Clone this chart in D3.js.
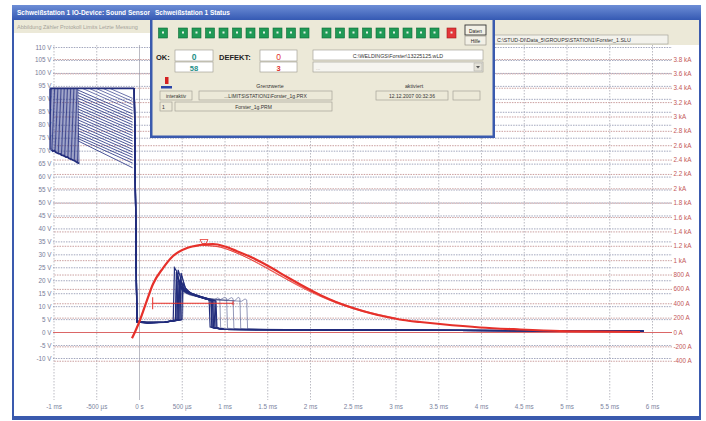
<!DOCTYPE html>
<html>
<head>
<meta charset="utf-8">
<script src="https://cdn.jsdelivr.net/npm/d3@7"></script>
<style>
  body { margin: 0; background: #fff; }
  svg { display: block; font-family: "Liberation Sans", Arial, sans-serif; }
</style>
</head>
<body>
<div id="chart"></div>
<script>
// time axis (ms)
const timeTicks = [-1, -0.5, 0, 0.5, 1, 1.5, 2, 2.5, 3, 3.5, 4, 4.5, 5, 5.5, 6];
const timeLabels = ["-1 ms", "-500 µs", "0 s", "500 µs", "1 ms", "1.5 ms", "2 ms", "2.5 ms",
                    "3 ms", "3.5 ms", "4 ms", "4.5 ms", "5 ms", "5.5 ms", "6 ms"];

// voltage axis (left)
const voltTicks = [-10, -5, 0, 5, 10, 15, 20, 25, 30, 35, 40, 45, 50, 55, 60, 65, 70, 75, 80, 85, 90, 95, 100, 105, 110];
const voltLabels = ["-10 V", "-5 V", "0 V", "5 V", "10 V", "15 V", "20 V", "25 V", "30 V", "35 V", "40 V", "45 V",
                    "50 V", "55 V", "60 V", "65 V", "70 V", "75 V", "80 V", "85 V", "90 V", "95 V", "100 V", "105 V", "110 V"];

// current axis (right)
const ampTicks = [-400, -200, 0, 200, 400, 600, 800, 1000, 1200, 1400, 1600, 1800, 2000, 2200, 2400, 2600,
                  2800, 3000, 3200, 3400, 3600, 3800];
const ampLabels = ["-400 A", "-200 A", "0 A", "200 A", "400 A", "600 A", "800 A", "1 kA", "1.2 kA", "1.4 kA",
                   "1.6 kA", "1.8 kA", "2 kA", "2.2 kA", "2.4 kA", "2.6 kA", "2.8 kA", "3 kA", "3.2 kA",
                   "3.4 kA", "3.6 kA", "3.8 kA"];

// charging voltage before trigger: steep rises (left block)
const preRiseT    = [-1.04, -1.023, -1.006, -0.989, -0.972, -0.955, -0.938, -0.921, -0.904, -0.887,
                     -0.87, -0.853, -0.836, -0.819, -0.802, -0.785, -0.768, -0.751, -0.734, -0.717];
const preRiseLowV = [70.4, 69.8, 70.0, 69.4, 69.1, 68.9, 68.8, 68.3, 68.2, 67.9,
                     67.5, 67.6, 67.1, 66.8, 66.6, 66.3, 66.1, 65.7, 65.4, 65.0];
// charging voltage before trigger: slopes (middle block), value at -0.715 ms and at -0.075 ms
const preSlopeStartV = [93.4, 92.4, 91.3, 90.3, 89.2, 88.2, 87.1, 86.1, 85.0, 84.0,
                        82.9, 81.9, 80.8, 79.8, 78.7, 77.7, 76.6, 75.6, 74.7, 73.8];
const preSlopeEndV   = [84.2, 83.1, 82.1, 81.0, 80.0, 78.9, 77.9, 76.8, 75.8, 74.7,
                        73.7, 72.6, 71.6, 70.5, 69.5, 68.4, 67.4, 66.3, 65.2, 63.4];
// slopes leaving the top edge, start time and value at -0.075 ms
const preTopSlopeT = [-0.66, -0.58, -0.50, -0.42, -0.34];
const preTopSlopeEndV = [85.5, 86.5, 87.8, 89.0, 90.2];
const preTopV = 94;

// weld voltage traces [ms, V]
const weldVoltMain = [
  [[-0.055,94],[-0.025,4.3],[0.1,3.6],[0.3,3.9],[0.40,4.5],[0.415,24.8],[0.44,23.5],[0.47,18.6],[0.53,16.0],[0.64,14.4],[0.76,13.1],[0.82,12.5],[0.832,2.0],[0.95,1.1],[2.5,0.8],[5.9,0.4]],
  [[-0.055,94],[-0.025,3.9],[0.1,3.4],[0.3,3.8],[0.445,4.7],[0.458,24.0],[0.48,21.6],[0.51,17.4],[0.57,15.4],[0.67,14.1],[0.78,12.9],[0.84,12.2],[0.852,1.8],[1.0,1.0],[2.5,0.8],[5.9,0.4]],
  [[-0.055,94],[-0.025,4.0],[0.1,3.5],[0.3,3.7],[0.43,4.6],[0.442,21.8],[0.47,19.5],[0.50,16.8],[0.56,15.1],[0.68,13.8],[0.80,12.6],[0.86,12.0],[0.872,1.7],[1.0,1.0],[2.5,0.8],[5.9,0.4]],
  [[-0.055,94],[-0.025,4.1],[0.1,3.7],[0.3,3.9],[0.465,4.8],[0.478,20.2],[0.50,18.4],[0.53,16.3],[0.59,15.0],[0.70,13.7],[0.81,12.6],[0.875,12.1],[0.887,1.6],[1.0,1.0],[2.5,0.8],[5.9,0.4]],
  [[-0.055,94],[-0.025,3.8],[0.1,3.5],[0.3,3.8],[0.48,4.7],[0.492,22.8],[0.51,20.6],[0.54,17.0],[0.60,15.2],[0.71,13.9],[0.82,12.7],[0.89,12.1],[0.902,1.7],[1.0,1.0],[2.5,0.8],[5.9,0.4]],
  [[-0.055,94],[-0.025,4.2],[0.1,3.6],[0.3,3.8],[0.50,4.8],[0.512,19.0],[0.53,17.6],[0.56,16.0],[0.62,14.9],[0.73,13.6],[0.84,12.5],[0.90,12.0],[0.912,1.6],[1.0,1.0],[2.5,0.8],[5.9,0.4]],
  [[-0.055,94],[-0.025,4.0],[0.1,3.6],[0.3,3.9],[0.425,4.5],[0.437,23.2],[0.46,21.0],[0.49,17.2],[0.55,15.5],[0.66,14.2],[0.77,12.9],[0.845,12.3],[0.857,1.8],[1.0,1.0],[2.5,0.8],[5.9,0.4]],
  [[-0.055,94],[-0.025,3.9],[0.1,3.5],[0.3,3.8],[0.455,4.6],[0.467,18.2],[0.49,17.0],[0.52,15.8],[0.58,14.9],[0.69,13.7],[0.79,12.7],[0.86,12.2],[0.872,1.7],[1.0,1.0],[2.5,0.8],[5.9,0.4]]
];
const weldVoltLong = [
  [[-0.055,94],[-0.025,4.0],[0.3,3.8],[0.47,4.7],[0.482,20.8],[0.50,19.0],[0.53,16.4],[0.60,14.8],[0.75,13.2],[0.88,12.6],[0.92,13.2],[0.945,12.8],[0.955,1.6],[1.1,1.0],[5.9,0.4]],
  [[-0.055,94],[-0.025,4.0],[0.3,3.8],[0.49,4.7],[0.502,21.5],[0.52,19.6],[0.55,16.6],[0.62,14.6],[0.80,13.0],[0.95,12.5],[1.0,13.4],[1.025,13.0],[1.035,1.5],[1.2,1.0],[5.9,0.4]],
  [[-0.055,94],[-0.025,4.0],[0.3,3.8],[0.44,4.6],[0.452,19.6],[0.47,18.0],[0.50,16.0],[0.58,14.6],[0.80,12.8],[1.03,12.3],[1.08,13.3],[1.10,12.9],[1.11,1.4],[1.3,1.0],[5.9,0.4]],
  [[-0.055,94],[-0.025,4.0],[0.3,3.8],[0.51,4.8],[0.522,18.8],[0.54,17.4],[0.57,15.8],[0.64,14.4],[0.85,12.6],[1.12,12.1],[1.16,13.4],[1.18,13.0],[1.19,1.3],[1.4,1.0],[5.9,0.4]],
  [[-0.055,94],[-0.025,4.0],[0.3,3.8],[0.46,4.6],[0.472,17.6],[0.49,16.6],[0.52,15.4],[0.60,14.2],[0.90,12.4],[1.20,11.9],[1.24,12.8],[1.26,12.4],[1.27,1.3],[1.5,1.0],[5.9,0.4]]
];

// weld current [ms, A]
const currentMain = [
  [-0.082,-88],[-0.047,0],[0.012,167],[0.094,445],[0.164,668],[0.281,890],[0.398,1058],[0.561,1169],
  [0.713,1211],[0.866,1225],[1.006,1190],[1.146,1125],[1.333,1030],[1.532,905],[1.731,765],[1.918,640],
  [2.117,515],[2.304,418],[2.503,334],[2.702,264],[2.901,209],[3.088,167],[3.287,139],[3.52,111],
  [3.988,63],[4.456,35],[4.924,14],[5.392,7],[5.86,0]
];
const currentVar1 = [[0.72,1208],[0.9,1195],[1.1,1120],[1.4,955],[1.8,690],[2.2,470],[2.6,305],[3.0,195]];
const currentVar2 = [[0.75,1205],[0.95,1180],[1.2,1070],[1.6,815],[2.0,560],[2.4,365],[2.8,230]];
const limitBar = {t0: 0.16, t1: 1.1, a: 400};
const peakMarker = {t: 0.76, a: 1245};

// status dialog
const ledStates = [1,1,1,1,1,1,1,1,1,1,1,1,1,1,1,1,1,1,1,1,0];

const W = 706, H = 421;
const svg = d3.select('#chart').append('svg').attr('width', W).attr('height', H);

const x = d3.scaleLinear().domain([-1, 6]).range([53.5, 652]);
const yV = d3.scaleLinear().domain([-10, 110]).range([358, 47]);
const yA = d3.scaleLinear().domain([0, 3800]).range([332, 59]);

const defs = svg.append('defs');
const tg = defs.append('linearGradient').attr('id', 'title').attr('x1', 0).attr('x2', 0).attr('y1', 0).attr('y2', 1);
tg.append('stop').attr('offset', 0).attr('stop-color', '#6d8ed6');
tg.append('stop').attr('offset', 1).attr('stop-color', '#3559b3');

// main window
svg.append('rect').attr('x', 12).attr('y', 5).attr('width', 689).attr('height', 415).attr('fill', '#3a5aae');
svg.append('rect').attr('x', 14).attr('y', 20).attr('width', 685).attr('height', 396).attr('fill', '#fff');
svg.append('rect').attr('x', 12).attr('y', 5).attr('width', 689).attr('height', 15).attr('fill', 'url(#title)');
svg.append('text').attr('x', 17).attr('y', 15).attr('fill', '#fff').attr('font-size', 6.5).attr('font-weight', 'bold')
  .text('Schweißstation 1  IO-Device: Sound Sensor');
svg.append('rect').attr('x', 14).attr('y', 20).attr('width', 685).attr('height', 13).attr('fill', '#ece9d8');
svg.append('text').attr('x', 17).attr('y', 29).attr('fill', '#a5a39a').attr('font-size', 5.5)
  .text('Abbildung   Zähler   Protokoll   Limits   Letzte Messung');

// grid + axes
svg.append('g').attr('transform', 'translate(0,45)')
  .call(d3.axisBottom(x).tickValues(timeTicks).tickFormat((d, i) => timeLabels[i]).tickSize(355).tickPadding(5))
  .call(g => g.select('.domain').remove())
  .call(g => g.selectAll('line').attr('stroke', '#aaaab4').attr('stroke-width', 0.8)
    .attr('stroke-dasharray', d => d === 0 ? null : '1.5,1.5'))
  .call(g => g.selectAll('text').attr('fill', '#7d84a0').attr('font-size', 6.3).attr('font-family', null));

svg.append('g').attr('transform', 'translate(53,0)')
  .call(d3.axisLeft(yV).tickValues(voltTicks).tickFormat((d, i) => voltLabels[i]).tickSize(-619).tickPadding(1.5))
  .call(g => g.select('.domain').remove())
  .call(g => g.selectAll('line').attr('stroke', d => d === 0 ? 'none' : '#9297b2').attr('stroke-width', 0.85)
    .attr('stroke-dasharray', '1.5,1.1'))
  .call(g => g.selectAll('text').attr('fill', '#767c98').attr('font-size', 6.3).attr('font-family', null));

svg.append('g').attr('transform', 'translate(672,0)')
  .call(d3.axisRight(yA).tickValues(ampTicks).tickFormat((d, i) => ampLabels[i]).tickSize(-619).tickPadding(1.5))
  .call(g => g.select('.domain').remove())
  .call(g => g.selectAll('line').attr('stroke', d => d === 0 ? '#d44a4a' : '#c28e8e').attr('stroke-width', 0.85)
    .attr('stroke-dasharray', d => d === 0 ? null : '1.5,1.1'))
  .call(g => g.selectAll('text').attr('fill', '#c45858').attr('font-size', 6.3).attr('font-family', null));

// voltage traces
const lineV = d3.line().x(d => x(d[0])).y(d => yV(d[1]));
const navy = '#222d7c';
const pre = svg.append('g').attr('fill', 'none').attr('stroke', '#2c3786');
pre.selectAll('.rise').data(preRiseT).join('path').attr('class', 'rise')
  .attr('stroke-width', 0.9)
  .attr('d', (t, i) => lineV([[t, preTopV], [t + 0.015, preRiseLowV[i]]]));
pre.append('path').attr('stroke', navy).attr('stroke-width', 1.8)
  .attr('d', lineV(preRiseT.map((t, i) => [t + 0.015, preRiseLowV[i]])));
pre.selectAll('.slope').data(preSlopeStartV).join('path').attr('class', 'slope')
  .attr('stroke-width', 0.85)
  .attr('d', (v, i) => lineV([[-0.715, v], [-0.075, preSlopeEndV[i]]]));
pre.selectAll('.topslope').data(preTopSlopeT).join('path').attr('class', 'topslope')
  .attr('stroke-width', 0.7)
  .attr('d', (t, i) => lineV([[t, preTopV], [-0.075, preTopSlopeEndV[i]]]));
pre.append('path').attr('stroke', navy).attr('stroke-width', 1.4)
  .attr('d', lineV([[-1.04, 70.4], [-1.04, preTopV]]));
pre.append('path').attr('stroke', navy).attr('stroke-width', 1.8)
  .attr('d', lineV([[-1.04, preTopV], [-0.055, preTopV]]));

svg.append('g').attr('fill', 'none').attr('stroke', '#4a5289').attr('stroke-width', 0.6)
  .selectAll('path').data(weldVoltLong).join('path').attr('d', lineV);
svg.append('g').attr('fill', 'none').attr('stroke', navy).attr('stroke-width', 1.2)
  .selectAll('path').data(weldVoltMain).join('path').attr('d', lineV);

// current
const lineA = d3.line().x(d => x(d[0])).y(d => yA(d[1])).curve(d3.curveMonotoneX);
const red = '#e6302a';
svg.append('g').attr('fill', 'none').attr('stroke', red).attr('stroke-width', 0.7)
  .selectAll('path').data([currentVar1, currentVar2]).join('path').attr('d', lineA);
svg.append('path').attr('fill', 'none').attr('stroke', red).attr('stroke-width', 2.2).attr('d', lineA(currentMain));

const lim = svg.append('g').attr('stroke', red).attr('stroke-width', 1);
lim.append('line').attr('x1', x(limitBar.t0)).attr('x2', x(limitBar.t1)).attr('y1', yA(limitBar.a)).attr('y2', yA(limitBar.a));
lim.append('line').attr('x1', x(limitBar.t0)).attr('x2', x(limitBar.t0)).attr('y1', yA(limitBar.a) - 6).attr('y2', yA(limitBar.a) + 6);
lim.append('line').attr('x1', x(limitBar.t1)).attr('x2', x(limitBar.t1)).attr('y1', yA(limitBar.a) - 2).attr('y2', yA(limitBar.a) + 2);
const px = x(peakMarker.t), py = yA(peakMarker.a);
svg.append('path').attr('fill', 'none').attr('stroke', red).attr('stroke-width', 0.8)
  .attr('d', `M${px - 4},${py - 3}H${px + 4}L${px + 2},${py + 1}H${px - 2}Z`);

// file path band (top right)
svg.append('rect').attr('x', 495).attr('y', 20).attr('width', 204).attr('height', 25).attr('fill', '#ece9d8');
svg.append('rect').attr('x', 494).attr('y', 35).attr('width', 174).attr('height', 9).attr('fill', '#f3f2ec').attr('stroke', '#9c9a92').attr('stroke-width', 0.6);
svg.append('text').attr('x', 497).attr('y', 42).attr('fill', '#333').attr('font-size', 5.3)
  .text('C:\\STUD-DI\\Data_5\\GROUPS\\STATION1\\Forster_1.SLU');

// status dialog
const dlg = svg.append('g');
dlg.append('rect').attr('x', 150).attr('y', 5).attr('width', 345).attr('height', 133).attr('fill', '#3a5aae');
dlg.append('rect').attr('x', 150).attr('y', 5).attr('width', 345).attr('height', 15).attr('fill', 'url(#title)');
dlg.append('rect').attr('x', 152.5).attr('y', 20).attr('width', 340).attr('height', 115.5).attr('fill', '#ece9d8');
dlg.append('text').attr('x', 155).attr('y', 15).attr('fill', '#fff').attr('font-size', 6.5).attr('font-weight', 'bold')
  .text('Schweißstation 1  Status');

const ledX = i => 158.5 + i * 13.5 + (i >= 1 ? 6.5 : 0) + (i >= 11 ? 8.5 : 0) + (i >= 20 ? 3.5 : 0);
const leds = dlg.selectAll('.led').data(ledStates).join('g').attr('class', 'led');
leds.append('rect').attr('x', (d, i) => ledX(i)).attr('y', 28).attr('width', 9).attr('height', 10)
  .attr('fill', d => d ? '#1f9a56' : '#e3363a').attr('stroke', d => d ? '#0f6a36' : '#a01c1c').attr('stroke-width', 0.6);
leds.append('rect').attr('x', (d, i) => ledX(i) + 3.5).attr('y', 31.5).attr('width', 2).attr('height', 2).attr('fill', '#e6f4ea');

function button(x0, y0, w, h, label, strong) {
  dlg.append('rect').attr('x', x0).attr('y', y0).attr('width', w).attr('height', h)
    .attr('fill', '#f2f0e6').attr('stroke', strong ? '#333' : '#8a887e').attr('stroke-width', strong ? 0.9 : 0.6);
  dlg.append('text').attr('x', x0 + w / 2).attr('y', y0 + h - 2.5).attr('text-anchor', 'middle')
    .attr('font-size', 4.8).attr('fill', '#222').text(label);
}
button(465, 25, 21, 10, 'Daten', true);
button(465, 36, 21, 9, 'Hilfe', false);

function field(x0, y0, w, h, fill) {
  dlg.append('rect').attr('x', x0).attr('y', y0).attr('width', w).attr('height', h)
    .attr('fill', fill).attr('stroke', '#9a988e').attr('stroke-width', 0.6);
}
function txt(x0, y0, s, size, color, anchor, bold) {
  dlg.append('text').attr('x', x0).attr('y', y0).attr('font-size', size).attr('fill', color)
    .attr('text-anchor', anchor || 'start').attr('font-weight', bold ? 'bold' : null).text(s);
}

txt(156, 60, 'OK:', 7.5, '#222', 'start', true);
field(175, 50, 38, 11, '#fff'); txt(194, 59.5, '0', 8.5, '#1f9088', 'middle', true);
field(175, 62, 38, 10, '#fff'); txt(194, 70.5, '58', 7.5, '#1f9088', 'middle', true);
txt(219, 60, 'DEFEKT:', 7.5, '#222', 'start', true);
field(260, 50, 37, 11, '#fff'); txt(278.5, 59.5, '0', 8.5, '#e0302c', 'middle', false);
field(260, 62, 37, 10, '#fff'); txt(278.5, 70.5, '3', 7.5, '#e0302c', 'middle', true);

field(313, 50, 170, 10, '#fff'); txt(398, 57.5, 'C:\\WELDINGS\\Forster\\13225125.wLD', 5.3, '#333', 'middle');
field(313, 62, 170, 10, '#f6f5f0'); txt(316, 69.5, '...', 5, '#b0aea6');
dlg.append('rect').attr('x', 474).attr('y', 63).attr('width', 8).attr('height', 8).attr('fill', '#e4e2d8').attr('stroke', '#a8a69e').attr('stroke-width', 0.5);
dlg.append('path').attr('d', 'M476,66h4l-2,2.5z').attr('fill', '#555');

dlg.append('rect').attr('x', 165).attr('y', 77).attr('width', 3.5).attr('height', 7).attr('fill', '#d42020');
dlg.append('rect').attr('x', 161).attr('y', 86).attr('width', 11).attr('height', 2.5).attr('fill', '#2a44a8');
txt(270, 87.5, 'Grenzwerte', 5.3, '#333', 'middle');
txt(414, 87.5, 'aktiviert', 5.3, '#333', 'middle');

field(160, 91, 32, 9, '#ece9d8'); txt(176, 97.8, 'interaktiv', 5, '#333', 'middle');
field(199, 91, 133, 9, '#ece9d8'); txt(265.5, 97.8, '...LIMITS\\STATION1\\Forster_1g.PRX', 5, '#333', 'middle');
field(376, 91, 72, 9, '#ece9d8'); txt(412, 97.8, '12.12.2007 00:32:36', 5, '#333', 'middle');
field(453, 91, 27, 9, '#ece9d8');
field(160, 102, 12, 9, '#ece9d8'); txt(162, 108.8, '1', 5, '#333');
field(175, 102, 157, 9, '#ece9d8'); txt(253.5, 108.8, 'Forster_1g.PRM', 5, '#333', 'middle');
</script>
</body>
</html>
